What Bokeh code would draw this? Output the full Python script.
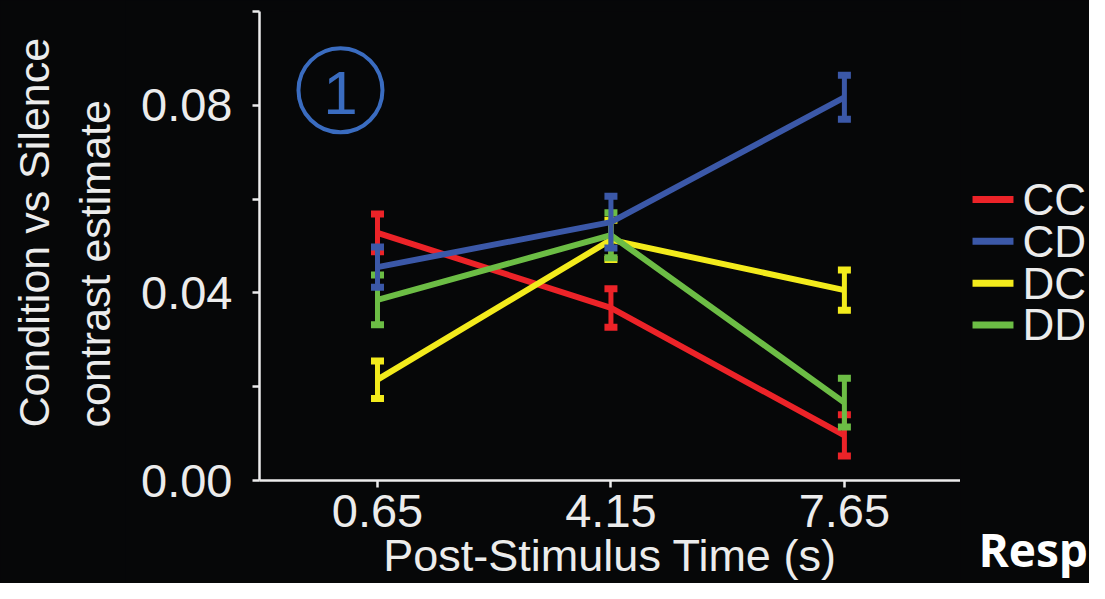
import math
from bokeh.plotting import figure
from bokeh.layouts import row
from bokeh.models import Range1d, FixedTicker, PrintfTickFormatter
from bokeh.core.properties import value
from bokeh.embed import file_html
from bokeh.resources import INLINE

# ---- data ----
times = [0.65, 4.15, 7.65]
series_names = ["CC", "CD", "DC", "DD"]
cc_vals = [0.0528, 0.0368, 0.0096]
cc_errs = [0.0040, 0.0041, 0.0044]
cd_vals = [0.0455, 0.0551, 0.0817]
cd_errs = [0.0043, 0.0055, 0.0047]
dc_vals = [0.0215, 0.0513, 0.0406]
dc_errs = [0.0040, 0.0042, 0.0043]
dd_vals = [0.0385, 0.0523, 0.0166]
dd_errs = [0.0053, 0.0048, 0.0052]
colors = {"CC": "#ec2328", "CD": "#3b58a8", "DC": "#f3eb1c", "DD": "#6cbd45"}
x_tick_values = [0.65, 4.15, 7.65]
y_tick_values = [0.00, 0.04, 0.08]
y_minor_values = [0.02, 0.06, 0.10]
x_title = "Post-Stimulus Time (s)"
y_title_lines = ["Condition vs Silence", "contrast estimate"]
panel_number = "1"
side_text = "Resp"

values = {"CC": cc_vals, "CD": cd_vals, "DC": dc_vals, "DD": dd_vals}
errors = {"CC": cc_errs, "CD": cd_errs, "DC": dc_errs, "DD": dd_errs}

BG = "#060708"
FG = "#ececec"
FONT = "Liberation Sans"
H = 583

# shared scale: 66.7 px per second, 4700 px per unit of estimate
PX_X = 66.7
PX_Y = 4700.0
X0, Y_TOP, Y_BOT = -1.119, 0.1, 0.0       # main frame
LEFT_W, MAIN_W, RIGHT_W = 125, 835, 129
MAIN_BORDER_L, MAIN_BORDER_T, MAIN_BORDER_B = 134, 11, 102

def style_fig(f):
    f.background_fill_color = BG
    f.border_fill_color = BG
    f.outline_line_color = None
    f.xgrid.visible = False
    f.ygrid.visible = False

# ---------------- main figure ----------------
main_frame_w = MAIN_W - MAIN_BORDER_L
p = figure(width=MAIN_W, height=H, output_backend="svg", toolbar_location=None,
           x_range=Range1d(X0, X0 + main_frame_w / PX_X), y_range=Range1d(Y_BOT, Y_TOP),
           min_border_left=MAIN_BORDER_L, min_border_right=0,
           min_border_top=MAIN_BORDER_T, min_border_bottom=MAIN_BORDER_B,
           frame_align=False)
style_fig(p)

for ax in (p.xaxis[0], p.yaxis[0]):
    ax.axis_line_color = FG
    ax.axis_line_width = 2.5
    ax.major_tick_line_color = FG
    ax.major_tick_line_width = 2.5
    ax.major_tick_out = 7
    ax.major_tick_in = 0
    ax.minor_tick_line_color = FG
    ax.minor_tick_line_width = 2.5
    ax.minor_tick_out = 7
    ax.minor_tick_in = 0
    ax.major_label_text_color = FG
    ax.major_label_text_font = FONT
    ax.major_label_text_font_size = "47px"
    ax.formatter = PrintfTickFormatter(format="%.2f")

p.xaxis[0].ticker = FixedTicker(ticks=x_tick_values, minor_ticks=[])
p.xaxis[0].major_label_standoff = 7
p.xaxis[0].axis_label = x_title
p.xaxis[0].axis_label_text_font = FONT
p.xaxis[0].axis_label_text_font_size = "45px"
p.xaxis[0].axis_label_text_font_style = "normal"
p.xaxis[0].axis_label_text_color = FG
p.xaxis[0].axis_label_standoff = 0
p.yaxis[0].ticker = FixedTicker(ticks=y_tick_values, minor_ticks=y_minor_values)
p.yaxis[0].major_label_standoff = 20

for name in ["CC", "DC", "DD", "CD"]:
    v = values[name]
    e = errors[name]
    c = colors[name]
    lo = [a - b for a, b in zip(v, e)]
    hi = [a + b for a, b in zip(v, e)]
    p.line(times, v, line_color=c, line_width=6, line_join="round")
    p.segment(x0=times, y0=lo, x1=times, y1=hi, line_color=c, line_width=5)
    p.rect(x=times, y=hi, width=13, height=7, width_units="screen", height_units="screen",
           fill_color=c, line_color=None)
    p.rect(x=times, y=lo, width=13, height=7, width_units="screen", height_units="screen",
           fill_color=c, line_color=None)

# circled panel number
p.scatter(x=[0.095], y=[0.0832], size=84, marker="circle", fill_color=None,
          line_color="#3a6cc0", line_width=4)
p.text(x=[0.095], y=[0.0826], text=[panel_number], text_color="#3a6cc0",
       text_font=value(FONT), text_font_size="62px", text_align="center", text_baseline="middle")

# ---------------- left figure: y title ----------------
side_y_top = Y_TOP + MAIN_BORDER_T / PX_Y
side_y_bot = side_y_top - H / PX_Y
left_x1 = X0 - MAIN_BORDER_L / PX_X
left_x0 = left_x1 - LEFT_W / PX_X
pl = figure(width=LEFT_W, height=H, output_backend="svg", toolbar_location=None,
            x_range=Range1d(left_x0, left_x1), y_range=Range1d(side_y_bot, side_y_top),
            x_axis_location=None, y_axis_location=None, min_border=0, frame_align=False)
style_fig(pl)
pl.text(x=[-4.50, -3.58], y=[0.0115, 0.0115], text=y_title_lines, angle=math.pi / 2,
        text_color=FG, text_font=value(FONT), text_font_size="43px",
        text_align="left", text_baseline="middle")

# ---------------- right figure: legend + slide text ----------------
right_x0 = X0 + main_frame_w / PX_X
pr = figure(width=RIGHT_W, height=H, output_backend="svg", toolbar_location=None,
            x_range=Range1d(right_x0, right_x0 + RIGHT_W / PX_X),
            y_range=Range1d(side_y_bot, side_y_top),
            x_axis_location=None, y_axis_location=None, min_border=0, frame_align=False)
style_fig(pr)
leg_x0, leg_x1, leg_tx = 9.571, 10.185, 10.32
leg_y0, leg_dy = 0.0600, -0.0089
leg_y = [leg_y0 + i * leg_dy for i in range(len(series_names))]
pr.segment(x0=[leg_x0] * 4, y0=leg_y, x1=[leg_x1] * 4, y1=leg_y,
           line_color=[colors[n] for n in series_names], line_width=7)
pr.text(x=[leg_tx] * 4, y=leg_y, text=series_names, text_color=FG,
        text_font=value(FONT), text_font_size="44px", text_baseline="middle", text_align="left")
pr.text(x=[9.66], y=[-0.01426], text=[side_text], text_color="#ffffff",
        text_font=value("Open Sans"), text_font_style="bold", text_font_size="46px",
        text_align="left", text_baseline="alphabetic")

layout = row(pl, p, pr, styles={"background-color": BG})
open("out.html", "w").write(file_html(layout, INLINE))
